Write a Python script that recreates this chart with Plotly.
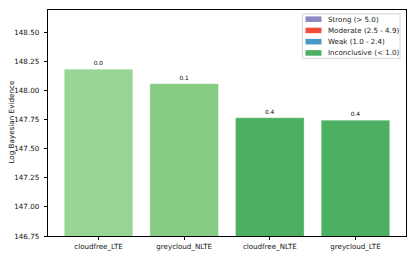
import plotly.graph_objects as go

categories = ["cloudfree_LTE", "greycloud_NLTE", "cloudfree_NLTE", "greycloud_LTE"]
log_evidence = [148.186, 148.061, 147.767, 147.747]
bar_labels = ["0.0", "0.1", "0.4", "0.4"]
bar_colors = ["#98d594", "#86cc85", "#4caf61", "#4caf61"]
legend_names = ["Strong (> 5.0)", "Moderate (2.5 - 4.9)", "Weak (1.0 - 2.4)", "Inconclusive (< 1.0)"]
legend_colors = ["#8d88c2", "#f24c3a", "#4a98c9", "#4caf61"]
y_ticks = [146.75, 147.00, 147.25, 147.50, 147.75, 148.00, 148.25, 148.50]
y_title = "Log Bayesian Evidence"

FONT = "DejaVu Sans"
W, H = 415, 260
L, R, T, B = 48, 406, 9, 238


def px_x(x):
    return (x - L) / (R - L)


def px_y(y):
    return (B - y) / (B - T)


fig = go.Figure()
fig.add_trace(go.Bar(
    x=categories, y=log_evidence, width=0.8,
    marker=dict(color=bar_colors, line=dict(color="rgba(255,255,255,0.5)", width=0.6)),
    text=bar_labels, textposition="outside", cliponaxis=False,
    textfont=dict(size=5.8, color="black", family=FONT),
    showlegend=False, hoverinfo="x+y"))

shapes = [dict(type="rect", xref="paper", yref="paper",
               x0=px_x(302.5), x1=px_x(400), y0=px_y(13), y1=px_y(58),
               line=dict(color="#cccccc", width=0.8), fillcolor="rgba(255,255,255,0.8)",
               layer="above")]
annotations = []
for i, (n, c) in enumerate(zip(legend_names, legend_colors)):
    cy = 18.3 + i * 11.4
    shapes.append(dict(type="rect", xref="paper", yref="paper",
                       x0=px_x(305.5), x1=px_x(321.5), y0=px_y(cy - 2.8), y1=px_y(cy + 2.8),
                       line=dict(width=0), fillcolor=c, layer="above"))
    annotations.append(dict(xref="paper", yref="paper", x=px_x(326), y=px_y(cy),
                            xanchor="left", yanchor="middle", text=n, showarrow=False,
                            font=dict(size=7.1, family=FONT, color="#222222")))

annotations.append(dict(xref="paper", yref="paper", x=0, y=px_y(122.5), xshift=-(L - 11.5),
                        xanchor="center", yanchor="middle", textangle=-90,
                        text=y_title, showarrow=False,
                        font=dict(size=7.2, family=FONT, color="#111111")))

fig.update_layout(
    width=W, height=H, barmode="overlay", showlegend=False,
    margin=dict(l=L, r=W - R, t=T, b=H - B),
    paper_bgcolor="white", plot_bgcolor="white",
    font=dict(family=FONT, size=7, color="black"),
    shapes=shapes, annotations=annotations,
    xaxis=dict(type="category", range=[-0.59, 3.59], showgrid=False,
               showline=True, linecolor="black", linewidth=0.8, mirror=True,
               ticks="outside", ticklen=3.5, tickwidth=0.8, tickcolor="black",
               tickfont=dict(size=7.1, family=FONT, color="#111111")),
    yaxis=dict(range=[146.75, 148.695], tickvals=y_ticks, tickformat=".2f",
               showgrid=False, zeroline=False, automargin=False,
               showline=True, linecolor="black", linewidth=0.8, mirror=True,
               ticks="outside", ticklen=3.5, tickwidth=0.8, tickcolor="black",
               ticklabelstandoff=3,
               tickfont=dict(size=7.1, family=FONT, color="#111111")),
)
fig.write_html("out.html", config={"displayModeBar": False},
               post_script="document.body.style.margin='0px';")
